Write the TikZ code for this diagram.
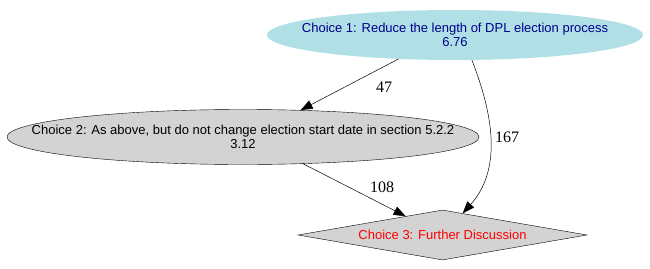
\documentclass[tikz,border=0pt]{standalone}
\usepackage{fontspec}
\setmainfont{Liberation Serif}
\newfontfamily\nodefont{Liberation Sans}
\usetikzlibrary{shapes.geometric,arrows.meta}
\definecolor{pblue}{HTML}{B0E0E6}
\definecolor{lgray}{HTML}{D3D3D3}
\definecolor{dblue}{HTML}{00008B}
\newcommand{\zw}[1]{\makebox[0pt]{#1}}
\tikzset{
  x=1pt, y=-1pt,
  nodetxt/.style={font=\nodefont\fontsize{13}{14.5}\selectfont, align=center, inner sep=0pt},
  ell1/.style={nodetxt, ellipse, fill=pblue, text=dblue, minimum width=376pt, minimum height=50pt},
  ell2/.style={nodetxt, ellipse, fill=lgray, draw=black, text=black, minimum width=472pt, minimum height=55pt},
  dia/.style={nodetxt, diamond, fill=lgray, draw=black, text=red, minimum width=289pt, minimum height=50pt, aspect=5.8},
  edge/.style={draw=black, line width=0.5pt, -{Triangle[length=12pt,width=9pt]}},
  elabel/.style={font=\fontsize{16}{18}\selectfont, inner sep=0pt}
}
\begin{document}
\begin{tikzpicture}
\useasboundingbox (0,0) rectangle (650,268);
\node[ell1] (n1) at (455,35) {\zw{Choice 1: Reduce the length of DPL election process}\\\zw{6.76}};
\node[ell2] (n2) at (243,137) {\zw{Choice 2: As above, but do not change election start date in section 5.2.2}\\\zw{3.12}};
\node[dia] (n3) at (442.5,235) {\zw{Choice 3: Further Discussion}};
\draw[edge] (n1.203.1) -- (n2.25);
\draw[edge] (n1.304.8) .. controls +(17,44) and +(43,-48) .. (n3.47);
\draw[edge] (n2.336.2) -- (n3.153.3);
\node[elabel] (l47) at (384,87) {47};
\node[elabel] (l167) at (507,137) {167};
\node[elabel] (l108) at (382,187) {108};
\end{tikzpicture}
\end{document}
